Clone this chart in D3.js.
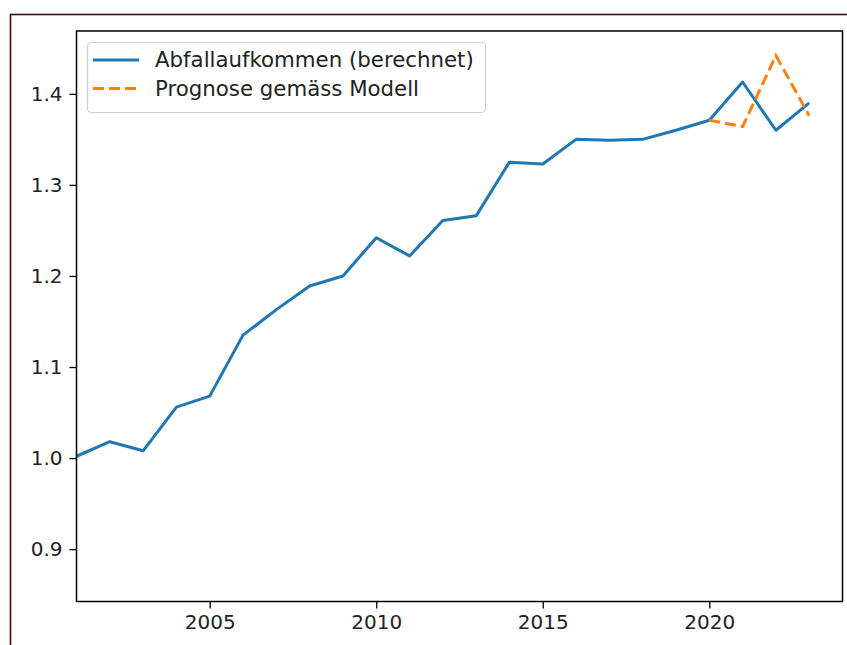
<!DOCTYPE html>
<html>
<head>
<meta charset="utf-8">
<script src="https://cdn.jsdelivr.net/npm/d3@7"></script>
<style>
  html, body { margin: 0; padding: 0; background: #fff; }
  svg { display: block; font-family: "DejaVu Sans", sans-serif; }
</style>
</head>
<body>
<svg id="chart" width="847" height="645"></svg>
<script>
// Years and computed waste volume (index, 2001 = 1.0)
const years = [2001, 2002, 2003, 2004, 2005, 2006, 2007, 2008, 2009, 2010, 2011, 2012,
               2013, 2014, 2015, 2016, 2017, 2018, 2019, 2020, 2021, 2022, 2023];
const computed = [1.002, 1.018, 1.008, 1.056, 1.068, 1.135, 1.163, 1.189, 1.200, 1.242, 1.222, 1.261,
                  1.266, 1.325, 1.323, 1.350, 1.349, 1.350, 1.360, 1.371, 1.413, 1.360, 1.390];

// Model forecast
const forecastYears = [2020, 2021, 2022, 2023];
const forecast = [1.371, 1.364, 1.442, 1.376];

const xTicks = [2005, 2010, 2015, 2020];
const yTicks = [0.9, 1.0, 1.1, 1.2, 1.3, 1.4];

const seriesNames = ["Abfallaufkommen (berechnet)", "Prognose gemäss Modell"];
const colors = ["#1f77b4", "#ff7f0e"];

const svg = d3.select("#chart");
const plot = { left: 76.5, top: 31, right: 842.5, bottom: 601.5 };

// Outer frame
svg.append("rect")
  .attr("x", 10.5).attr("y", 14.5)
  .attr("width", 900).attr("height", 700)
  .attr("fill", "none")
  .attr("stroke", "#3d0b0b")
  .attr("stroke-width", 1.6);

const x = d3.scaleLinear().domain([2001, 2024]).range([plot.left, plot.right]);
const y = d3.scaleLinear().domain([0.8425, 1.469]).range([plot.bottom, plot.top]);

const tickFont = 20;
const legendFont = 21.3;

// Axes
const xAxis = d3.axisBottom(x).tickValues(xTicks).tickFormat(d3.format("d"))
  .tickSize(7).tickPadding(6);
const yAxis = d3.axisLeft(y).tickValues(yTicks).tickFormat(d3.format(".1f"))
  .tickSize(7).tickPadding(7);

const gx = svg.append("g").attr("transform", `translate(0,${plot.bottom})`).call(xAxis);
const gy = svg.append("g").attr("transform", `translate(${plot.left},0)`).call(yAxis);
[gx, gy].forEach(g => {
  g.select(".domain").remove();
  g.selectAll(".tick line").attr("stroke", "#000").attr("stroke-width", 1.3);
  g.selectAll(".tick text").attr("fill", "#222")
    .style("font-family", "'DejaVu Sans', sans-serif")
    .style("font-size", tickFont + "px");
});

// Clip for data lines
svg.append("clipPath").attr("id", "plotclip")
  .append("rect")
  .attr("x", plot.left).attr("y", plot.top)
  .attr("width", plot.right - plot.left).attr("height", plot.bottom - plot.top);

const line = d3.line().x(d => x(d[0])).y(d => y(d[1]));

svg.append("path")
  .datum(years.map((yr, i) => [yr, computed[i]]))
  .attr("clip-path", "url(#plotclip)")
  .attr("d", line)
  .attr("fill", "none")
  .attr("stroke", colors[0])
  .attr("stroke-width", 3)
  .attr("stroke-linejoin", "round");

svg.append("path")
  .datum(forecastYears.map((yr, i) => [yr, forecast[i]]))
  .attr("clip-path", "url(#plotclip)")
  .attr("d", line)
  .attr("fill", "none")
  .attr("stroke", colors[1])
  .attr("stroke-width", 3)
  .attr("stroke-dasharray", "11,5");

// Plot frame (spines)
svg.append("rect")
  .attr("x", plot.left).attr("y", plot.top)
  .attr("width", plot.right - plot.left).attr("height", plot.bottom - plot.top)
  .attr("fill", "none")
  .attr("stroke", "#000")
  .attr("stroke-width", 1.5);

// Legend
const legend = svg.append("g");
legend.append("rect")
  .attr("x", 87.5).attr("y", 42.5)
  .attr("width", 398).attr("height", 70)
  .attr("rx", 4).attr("ry", 4)
  .attr("fill", "#fff").attr("fill-opacity", 0.8)
  .attr("stroke", "#d0d0d0").attr("stroke-width", 1.2);

seriesNames.forEach((name, i) => {
  const cy = 60 + i * 28.5;
  legend.append("line")
    .attr("x1", 93).attr("x2", 139)
    .attr("y1", cy).attr("y2", cy)
    .attr("stroke", colors[i])
    .attr("stroke-width", 3)
    .attr("stroke-dasharray", i === 1 ? "11,5" : null);
  legend.append("text")
    .attr("x", 155).attr("y", cy)
    .attr("dy", "0.35em")
    .attr("fill", "#222")
    .style("font-size", legendFont + "px")
    .text(name);
});
</script>
</body>
</html>
